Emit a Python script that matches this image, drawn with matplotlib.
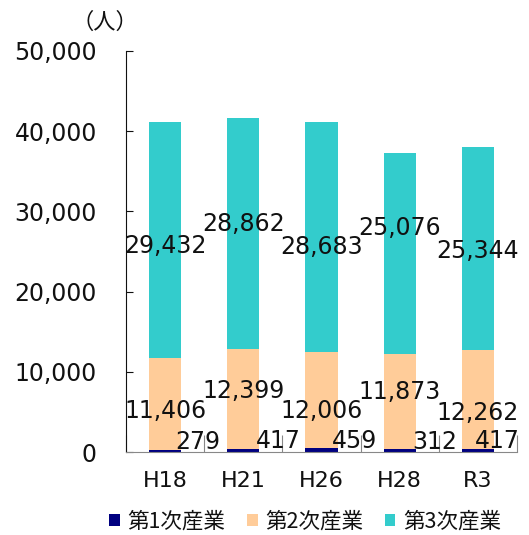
import matplotlib
matplotlib.use("Agg")
import matplotlib.pyplot as plt
import numpy as np
from matplotlib.ticker import FuncFormatter, FixedLocator

plt.rcParams['font.family'] = ['DejaVu Sans', 'Noto Sans CJK JP']
CJK = ['Noto Sans CJK JP', 'DejaVu Sans']

categories = ["H18", "H21", "H26", "H28", "R3"]
primary = [279, 417, 459, 312, 417]
secondary = [11406, 12399, 12006, 11873, 12262]
tertiary = [29432, 28862, 28683, 25076, 25344]
series_names = ["第1次産業", "第2次産業", "第3次産業"]
colors = ["#000080", "#FFCC99", "#33CCCC"]

# label placement offsets in pixels
ter_dy = [-6, 9, -10, 26, -2]
sec_dy = [-7, 8, -11, 10, -14]
pri_dx = [33, 35, 33, 35, 19]
pri_dy = [9, 9, 9, 9, 9]

fig = plt.figure(figsize=(5.29, 5.35), dpi=100)
ax = fig.add_axes([126/529, 1-452/535, (517-126)/529, (452-51)/535])

x = np.arange(len(categories))
w = 0.41
p = np.array(primary)
s = np.array(secondary)
t = np.array(tertiary)
ax.bar(x, p, w, color=colors[0], label=series_names[0], zorder=2)
ax.bar(x, s, w, bottom=p, color=colors[1], label=series_names[1], zorder=2)
ax.bar(x, t, w, bottom=p + s, color=colors[2], label=series_names[2], zorder=2)

fs = 17
tc = "#111111"
for i in range(len(categories)):
    ax.annotate(f"{tertiary[i]:,}", (x[i], p[i] + s[i] + t[i] / 2), xytext=(0, ter_dy[i]),
                textcoords="offset pixels", ha="center", va="center", fontsize=fs, color=tc, zorder=5)
    ax.annotate(f"{secondary[i]:,}", (x[i], p[i] + s[i] / 2), xytext=(0, sec_dy[i]),
                textcoords="offset pixels", ha="center", va="center", fontsize=fs, color=tc, zorder=5)
    ax.annotate(f"{primary[i]:,}", (x[i], p[i] / 2), xytext=(pri_dx[i], pri_dy[i]),
                textcoords="offset pixels", ha="center", va="center", fontsize=fs, color=tc, zorder=5)

ax.set_xlim(-0.5, len(categories) - 0.5)
ax.set_ylim(0, 50000)
ax.set_yticks(np.arange(0, 50001, 10000))
ax.yaxis.set_major_formatter(FuncFormatter(lambda v, _: f"{int(v):,}"))
ax.tick_params(axis='y', direction='in', length=5, pad=21, labelsize=fs, colors=tc)
ax.set_xticks(x)
ax.set_xticklabels(categories)
ax.tick_params(axis='x', length=0, pad=14, labelsize=16, colors=tc)
ax.xaxis.set_minor_locator(FixedLocator(np.arange(-0.5, len(categories), 1.0)))
ax.tick_params(axis='x', which='minor', direction='in', length=12, color='#888888', width=0.8)

for sp in ["top", "right"]:
    ax.spines[sp].set_visible(False)
ax.spines["left"].set_color(tc)
ax.spines["bottom"].set_color("#888888")

fig.text(105/529, 1-22/535, "（人）", ha="center", va="center", fontsize=16, color=tc, family=CJK)

leg = fig.legend(loc="center", bbox_to_anchor=(305/529, 1-522/535), ncol=3, frameon=False,
                 prop={'family': CJK, 'size': 15.5}, handlelength=0.5, handleheight=0.5,
                 handletextpad=0.35, columnspacing=1.0)
for txt in leg.get_texts():
    txt.set_color(tc)

fig.savefig("out.png", dpi=100)
